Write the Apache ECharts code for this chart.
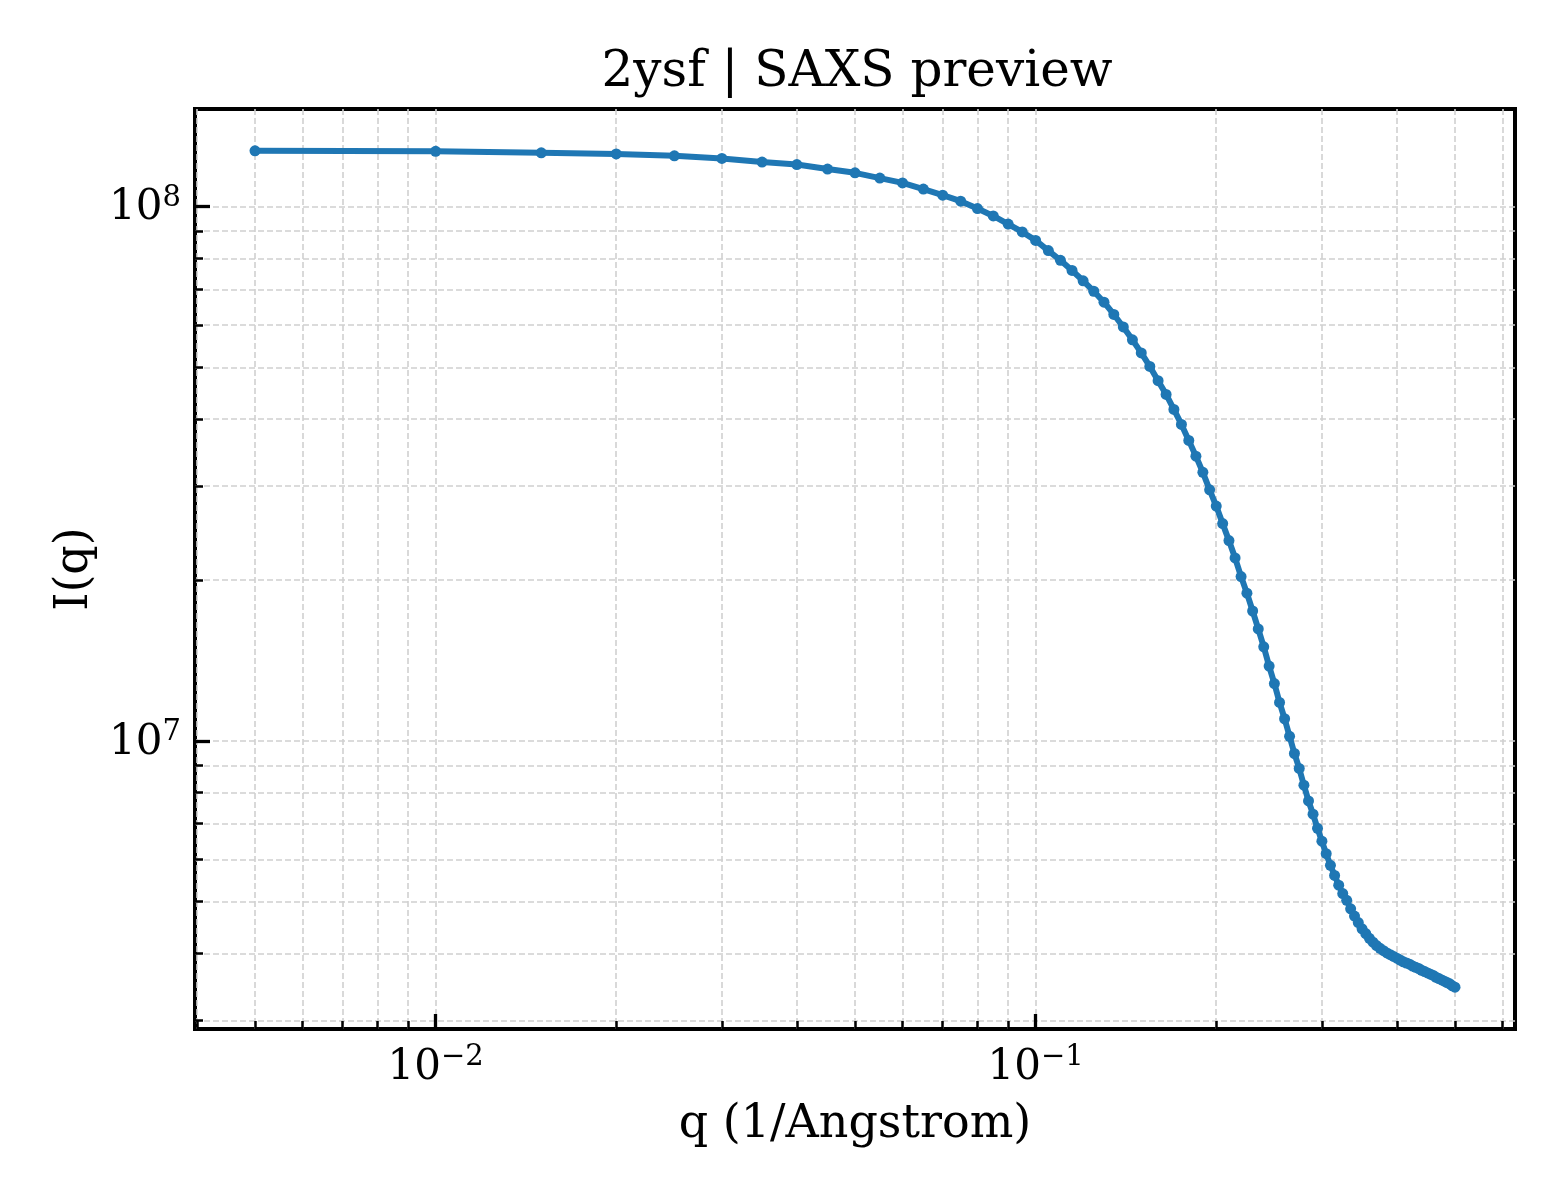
<!DOCTYPE html>
<html>
<head>
<meta charset="utf-8">
<title>2ysf | SAXS preview</title>
<script src="https://cdn.jsdelivr.net/npm/echarts@6/dist/echarts.min.js"></script>
<style>
html,body{margin:0;padding:0;background:#fff;}
#chart{width:1560px;height:1200px;}
</style>
</head>
<body>
<div id="chart"></div>
<script>
// q (1/Angstrom)
var qVals = [
  0.005, 0.010, 0.015, 0.020, 0.025, 0.030, 0.035, 0.040, 0.045, 0.050,
  0.055, 0.060, 0.065, 0.070, 0.075, 0.080, 0.085, 0.090, 0.095, 0.100,
  0.105, 0.110, 0.115, 0.120, 0.125, 0.130, 0.135, 0.140, 0.145, 0.150,
  0.155, 0.160, 0.165, 0.170, 0.175, 0.180, 0.185, 0.190, 0.195, 0.200,
  0.205, 0.210, 0.215, 0.220, 0.225, 0.230, 0.235, 0.240, 0.245, 0.250,
  0.255, 0.260, 0.265, 0.270, 0.275, 0.280, 0.285, 0.290, 0.295, 0.300,
  0.305, 0.310, 0.315, 0.320, 0.325, 0.330, 0.335, 0.340, 0.345, 0.350,
  0.355, 0.360, 0.365, 0.370, 0.375, 0.380, 0.385, 0.390, 0.395, 0.400,
  0.405, 0.410, 0.415, 0.420, 0.425, 0.430, 0.435, 0.440, 0.445, 0.450,
  0.455, 0.460, 0.465, 0.470, 0.475, 0.480, 0.485, 0.490, 0.495, 0.500
];
// I(q)
var iqVals = [
  1.271e8, 1.268e8, 1.260e8, 1.254e8, 1.244e8, 1.230e8, 1.211e8, 1.198e8, 1.175e8, 1.156e8,
  1.130e8, 1.107e8, 1.078e8, 1.050e8, 1.023e8, 9.91e7, 9.60e7, 9.27e7, 8.96e7, 8.64e7,
  8.27e7, 7.93e7, 7.59e7, 7.26e7, 6.94e7, 6.62e7, 6.28e7, 5.95e7, 5.63e7, 5.32e7,
  5.02e7, 4.72e7, 4.45e7, 4.17e7, 3.91e7, 3.65e7, 3.41e7, 3.18e7, 2.95e7, 2.75e7,
  2.55e7, 2.37e7, 2.20e7, 2.03e7, 1.89e7, 1.75e7, 1.62e7, 1.50e7, 1.38e7, 1.28e7,
  1.18e7, 1.10e7, 1.02e7, 9.47e6, 8.88e6, 8.26e6, 7.72e6, 7.29e6, 6.86e6, 6.49e6,
  6.15e6, 5.85e6, 5.60e6, 5.37e6, 5.18e6, 5.03e6, 4.85e6, 4.70e6, 4.57e6, 4.45e6,
  4.36e6, 4.27e6, 4.20e6, 4.14e6, 4.09e6, 4.05e6, 4.01e6, 3.98e6, 3.95e6, 3.92e6,
  3.89e6, 3.86e6, 3.84e6, 3.82e6, 3.79e6, 3.77e6, 3.75e6, 3.72e6, 3.70e6, 3.68e6,
  3.66e6, 3.64e6, 3.61e6, 3.59e6, 3.57e6, 3.55e6, 3.53e6, 3.51e6, 3.48e6, 3.46e6
];

// tick values (log axes)
var xMajor = [0.01, 0.1];
var xAll = [0.004, 0.005, 0.006, 0.007, 0.008, 0.009, 0.01,
  0.02, 0.03, 0.04, 0.05, 0.06, 0.07, 0.08, 0.09, 0.1,
  0.2, 0.3, 0.4, 0.5, 0.6];
var yMajor = [1e7, 1e8];
var yAll = [3e6, 4e6, 5e6, 6e6, 7e6, 8e6, 9e6, 1e7,
  2e7, 3e7, 4e7, 5e7, 6e7, 7e7, 8e7, 9e7, 1e8];

var FONT = 'DejaVu Serif';

// matplotlib-like 5% margin in log space
function logLimits(arr){
  var lo = Math.log10(Math.min.apply(null, arr));
  var hi = Math.log10(Math.max.apply(null, arr));
  var m = (hi - lo) * 0.05;
  return [Math.pow(10, lo - m), Math.pow(10, hi + m)];
}
var xLim = logLimits(qVals);
var yLim = logLimits(iqVals);

var points = [];
for (var i = 0; i < qVals.length; i++) {
  points.push([qVals[i], iqVals[i]]);
}

// 10^n labels
function powLabel(v){
  var e = Math.round(Math.log10(v));
  var s = e < 0 ? '\u2212' + (-e) : '' + e;
  return '{b|10}{s|' + s + '}';
}
var richPow = {
  b: {fontFamily: FONT, fontSize: 42, color: '#000', lineHeight: 46, verticalAlign: 'bottom'},
  s: {fontFamily: FONT, fontSize: 29, color: '#000', lineHeight: 30, verticalAlign: 'top'}
};

var gridStyle = {color: '#d0d0d0', width: 1.6, type: [6, 3]};

var myChart = echarts.init(document.getElementById('chart'));
var option = {
  backgroundColor: '#fff',
  animation: false,
  title: {
    text: '2ysf | SAXS preview',
    left: 852,
    top: 43,
    textAlign: 'center',
    textStyle: {fontFamily: FONT, fontSize: 50, fontWeight: 'normal', color: '#000'}
  },
  grid: {
    left: 195, right: 45, top: 109, bottom: 171,
    show: true, borderColor: '#000', borderWidth: 4,
    backgroundColor: 'transparent',
    containLabel: false, outerBoundsMode: 'none'
  },
  xAxis: [{
    // minor ticks + grid
    type: 'log', logBase: 10, min: xLim[0], max: xLim[1],
    position: 'bottom',
    axisLine: {show: false},
    axisTick: {show: true, inside: true, length: 8, customValues: xAll,
      lineStyle: {color: '#000', width: 2.5}},
    axisLabel: {show: false},
    splitLine: {show: true, lineStyle: gridStyle},
    minorTick: {show: false}, minorSplitLine: {show: false}
  }, {
    // major ticks + labels
    type: 'log', logBase: 10, min: xLim[0], max: xLim[1],
    position: 'bottom', offset: 0,
    axisLine: {show: false},
    axisTick: {show: true, inside: true, length: 15, customValues: xMajor,
      lineStyle: {color: '#000', width: 3.3}},
    axisLabel: {show: true, customValues: xMajor, margin: 14,
      formatter: powLabel, rich: richPow},
    splitLine: {show: false},
    name: 'q (1/Angstrom)', nameLocation: 'middle', nameGap: 73,
    nameTextStyle: {fontFamily: FONT, fontSize: 46, color: '#000'}
  }],
  yAxis: [{
    type: 'log', logBase: 10, min: yLim[0], max: yLim[1],
    position: 'left',
    axisLine: {show: false},
    axisTick: {show: true, inside: true, length: 8, customValues: yAll,
      lineStyle: {color: '#000', width: 2.5}},
    axisLabel: {show: false},
    splitLine: {show: true, lineStyle: gridStyle},
    minorTick: {show: false}, minorSplitLine: {show: false}
  }, {
    type: 'log', logBase: 10, min: yLim[0], max: yLim[1],
    position: 'left', offset: 0,
    axisLine: {show: false},
    axisTick: {show: true, inside: true, length: 15, customValues: yMajor,
      lineStyle: {color: '#000', width: 3.3}},
    axisLabel: {show: true, customValues: yMajor, margin: 14,
      formatter: powLabel, rich: richPow},
    splitLine: {show: false},
    name: 'I(q)', nameLocation: 'middle', nameGap: 96, nameRotate: 90,
    nameTextStyle: {fontFamily: FONT, fontSize: 46, color: '#000'}
  }],
  series: [{
    name: 'I(q)',
    type: 'line',
    xAxisIndex: 0, yAxisIndex: 0,
    data: points,
    symbol: 'circle', symbolSize: 11,
    showSymbol: true, showAllSymbol: true,
    lineStyle: {color: '#1f77b4', width: 6},
    itemStyle: {color: '#1f77b4'},
    z: 5
  }]
};
myChart.setOption(option);
</script>
</body>
</html>
